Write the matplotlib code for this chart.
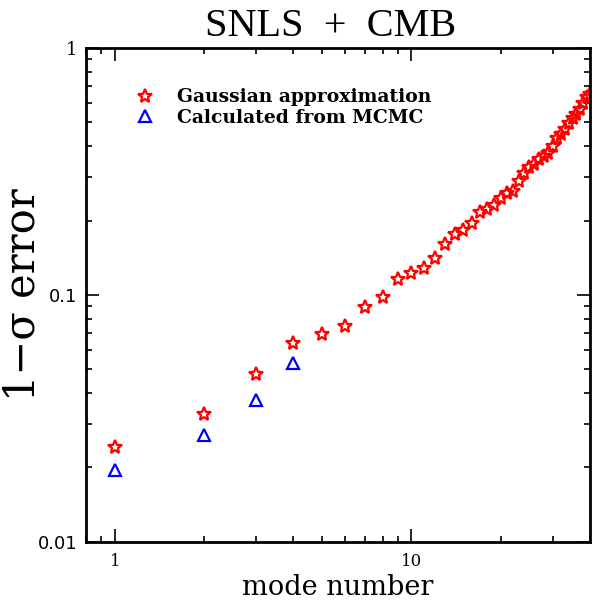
import matplotlib
matplotlib.use("Agg")
import matplotlib.pyplot as plt
from matplotlib.ticker import LogLocator, FixedLocator, FixedFormatter, NullFormatter

# 1-sigma errors per mode, Gaussian approximation (modes 1..40)
modes = list(range(1, 41))
gauss_err = [0.0241, 0.0329, 0.0477, 0.0637, 0.0693, 0.0749, 0.0894, 0.0981,
             0.1157, 0.1220, 0.1280, 0.1416, 0.1604, 0.1770, 0.1828, 0.1960,
             0.2156, 0.2236, 0.2307, 0.2477, 0.2597, 0.2636, 0.2893, 0.3128,
             0.3300, 0.3400, 0.3540, 0.3654, 0.3770, 0.4010, 0.4335, 0.4475,
             0.4690, 0.4985, 0.5190, 0.5420, 0.5650, 0.6005, 0.6335, 0.6490]

# errors from the MCMC chains, first four modes only
mcmc_modes = [1, 2, 3, 4]
mcmc_err = [0.0194, 0.0270, 0.0376, 0.0529]

xticks = [1, 10]
xticklabels = ["1", "10"]
yticks = [0.01, 0.1, 1]
yticklabels = ["0.01", "0.1", "1"]

serif = "DejaVu Serif"

fig = plt.figure(figsize=(5.92, 6.01), dpi=100)
ax = fig.add_axes([0.1453, 0.099, 0.851, 0.821])

ax.plot(modes, gauss_err, linestyle="none", marker="*", markersize=10,
        markerfacecolor="none", markeredgecolor="red", markeredgewidth=1.6,
        label="Gaussian approximation")
ax.plot(mcmc_modes, mcmc_err, linestyle="none", marker="^", markersize=8.5,
        markerfacecolor="none", markeredgecolor="blue", markeredgewidth=1.6,
        label="Calculated from MCMC")

ax.set_xscale("log")
ax.set_yscale("log")
ax.set_xlim(0.8, 40)
ax.set_ylim(0.01, 1)

ax.xaxis.set_major_locator(FixedLocator(xticks))
ax.xaxis.set_major_formatter(FixedFormatter(xticklabels))
ax.yaxis.set_major_locator(FixedLocator(yticks))
ax.yaxis.set_major_formatter(FixedFormatter(yticklabels))
for axis in (ax.xaxis, ax.yaxis):
    axis.set_minor_locator(LogLocator(base=10, subs=range(2, 10)))
    axis.set_minor_formatter(NullFormatter())

ax.tick_params(which="both", direction="in", top=True, right=True, width=1.2)
ax.tick_params(which="major", length=9.5)
ax.tick_params(which="minor", length=4.5)
ax.tick_params(axis="x", labelsize=12, pad=8)
ax.tick_params(axis="y", labelsize=13, pad=6)
for lab in ax.get_xticklabels():
    lab.set_family(serif)
for lab in ax.get_yticklabels():
    lab.set_family("DejaVu Sans")
ax.get_yticklabels()[-1].set_family(serif)
for sp in ax.spines.values():
    sp.set_linewidth(2)

ax.set_title("SNLS  +  CMB", family="Liberation Serif", fontsize=29, pad=9, x=0.485)
ax.set_xlabel("mode number", family=serif, fontsize=19.5, labelpad=3)
ax.set_ylabel("1\u2212\u03c3 error", family=serif, fontsize=30)
ax.yaxis.set_label_coords(-0.085, 0.5)

ax.legend(loc="upper left", bbox_to_anchor=(0.062, 0.953), frameon=False,
          prop={"family": serif, "size": 13.5, "weight": "bold"},
          handletextpad=1.1, labelspacing=0.15, handlelength=1.2)

fig.savefig("out.png", dpi=100)
